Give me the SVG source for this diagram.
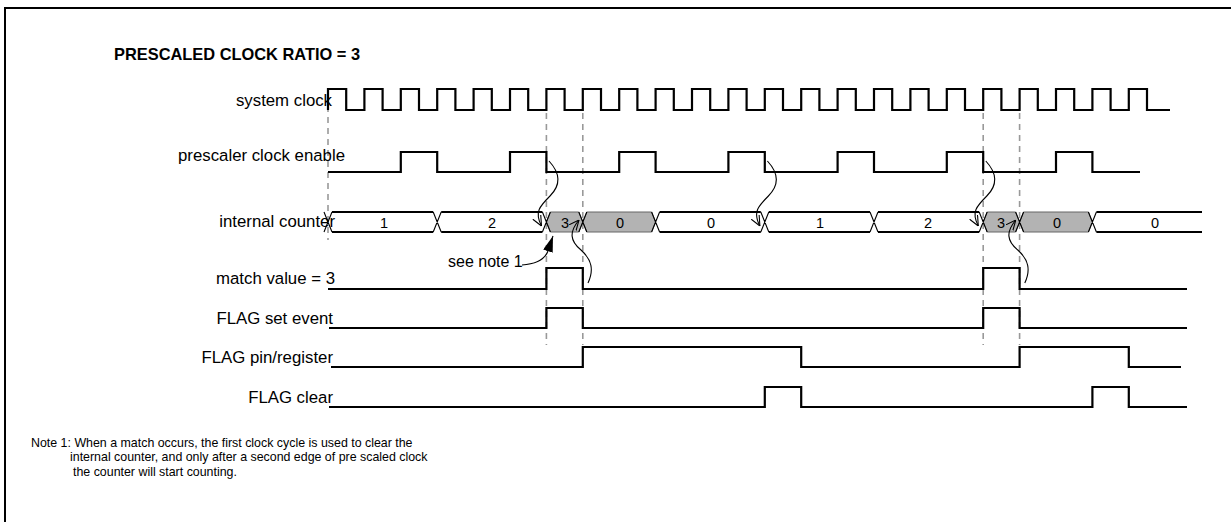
<svg xmlns="http://www.w3.org/2000/svg" width="1231" height="522" viewBox="0 0 1231 522">
<style>
text{font-family:"Liberation Sans",Arial,sans-serif;fill:#000}
.lbl{font-size:16.8px;text-anchor:end}
.num{font-size:14.5px;text-anchor:middle}
.sig{fill:none;stroke:#000;stroke-width:2.2}
.bus{fill:none;stroke:#000;stroke-width:2}
.x{fill:none;stroke:#000;stroke-width:1.1}
.grey{fill:#b3b3b3;stroke:#666;stroke-width:1}
.dash{stroke:#999;stroke-width:1.6;stroke-dasharray:6,5;fill:none}
.cv{fill:none;stroke:#000;stroke-width:1.1}
</style>
<defs>
<marker id="open" viewBox="0 0 10 10" refX="10" refY="5" markerWidth="10" markerHeight="10" markerUnits="userSpaceOnUse" orient="auto"><path d="M0,0.5 L10,5 L0,9.5" fill="none" stroke="#000" stroke-width="1.1"/></marker>
<marker id="solid" viewBox="0 0 16 10" refX="16" refY="5" markerWidth="16" markerHeight="10" markerUnits="userSpaceOnUse" orient="auto"><path d="M0,0 L16,5 L0,10 z" fill="#000"/></marker>
</defs>
<path d="M5,530 V8 H1240" fill="none" stroke="#000" stroke-width="2"/>
<text x="114" y="60" style="font-size:16.4px;font-weight:bold">PRESCALED CLOCK RATIO = 3</text>
<g id="dashes">
<line class="dash" x1="328" y1="95" x2="328" y2="240"/>
<line class="dash" x1="546.4" y1="113" x2="546.4" y2="345"/>
<line class="dash" x1="582.8" y1="113" x2="582.8" y2="345"/>
<line class="dash" x1="983.2" y1="113" x2="983.2" y2="345"/>
<line class="dash" x1="1019.6" y1="113" x2="1019.6" y2="345"/>
</g>
<g id="sysclk">
<text class="lbl" x="332" y="106">system clock</text>
<path class="sig" d="M328,110 v-21h18.2v21h18.2 v-21h18.2v21h18.2 v-21h18.2v21h18.2 v-21h18.2v21h18.2 v-21h18.2v21h18.2 v-21h18.2v21h18.2 v-21h18.2v21h18.2 v-21h18.2v21h18.2 v-21h18.2v21h18.2 v-21h18.2v21h18.2 v-21h18.2v21h18.2 v-21h18.2v21h18.2 v-21h18.2v21h18.2 v-21h18.2v21h18.2 v-21h18.2v21h18.2 v-21h18.2v21h18.2 v-21h18.2v21h18.2 v-21h18.2v21h18.2 v-21h18.2v21h18.2 v-21h18.2v21h18.2 v-21h18.2v21h18.2 v-21h18.2v21h18.2 v-21h18.2v21h23"/>
</g>
<g id="enable">
<text class="lbl" x="345" y="161">prescaler clock enable</text>
<path class="sig" d="M328,172 H400.8 V152 H437.2 V172 H510 V152 H546.4 V172 H619.2 V152 H655.6 V172 H728.4 V152 H764.8 V172 H837.6 V152 H874 V172 H946.8 V152 H983.2 V172 H1056 V152 H1092.4 V172 H1140"/>
</g>
<g id="counter">
<text class="lbl" x="335" y="227">internal counter</text>
<polygon class="grey" points="546.4,222 550.4,212 578.8,212 582.8,222 578.8,232 550.4,232"/>
<polygon class="grey" points="582.8,222 586.8,212 651.6,212 655.6,222 651.6,232 586.8,232"/>
<polygon class="grey" points="983.2,222 987.2,212 1015.6,212 1019.6,222 1015.6,232 987.2,232"/>
<polygon class="grey" points="1019.6,222 1023.6,212 1088.4,212 1092.4,222 1088.4,232 1023.6,232"/>
<path class="bus" d="M332,212 H433.2 M332,232 H433.2 M441.2,212 H542.4 M441.2,232 H542.4 M659.6,212 H760.8 M659.6,232 H760.8 M768.8,212 H870 M768.8,232 H870 M878,212 H979.2 M878,232 H979.2 M1096.4,212 H1202 M1096.4,232 H1202"/>
<path class="x" d="M324,212 L332,232 M324,232 L332,212 M433.2,212 L441.2,232 M433.2,232 L441.2,212 M542.4,212 L550.4,232 M542.4,232 L550.4,212 M578.8,212 L586.8,232 M578.8,232 L586.8,212 M651.6,212 L659.6,232 M651.6,232 L659.6,212 M760.8,212 L768.8,232 M760.8,232 L768.8,212 M870,212 L878,232 M870,232 L878,212 M979.2,212 L987.2,232 M979.2,232 L987.2,212 M1015.6,212 L1023.6,232 M1015.6,232 L1023.6,212 M1088.4,212 L1096.4,232 M1088.4,232 L1096.4,212"/>
<text class="num" x="384" y="228">1</text>
<text class="num" x="492" y="228">2</text>
<text class="num" x="565" y="228">3</text>
<text class="num" x="620" y="228">0</text>
<text class="num" x="711" y="228">0</text>
<text class="num" x="820" y="228">1</text>
<text class="num" x="928" y="228">2</text>
<text class="num" x="1001" y="228">3</text>
<text class="num" x="1057" y="228">0</text>
<text class="num" x="1155" y="228">0</text>
</g>
<g id="match">
<text class="lbl" x="335" y="284">match value = 3</text>
<path class="sig" d="M328,289 H546.4 V268 H582.8 V289 H983.2 V268 H1019.6 V289 H1187"/>
</g>
<g id="flagset">
<text class="lbl" x="333" y="324">FLAG set event</text>
<path class="sig" d="M329,328 H546.4 V308 H582.8 V328 H983.2 V308 H1019.6 V328 H1187"/>
</g>
<g id="flagpin">
<text class="lbl" x="333" y="363">FLAG pin/register</text>
<path class="sig" d="M331,367 H582.8 V347 H801.2 V367 H1019.6 V347 H1128.8 V367 H1181"/>
</g>
<g id="flagclear">
<text class="lbl" x="333" y="403">FLAG clear</text>
<path class="sig" d="M329,407 H764.8 V387 H801.2 V407 H1092.4 V387 H1128.8 V407 H1187"/>
</g>
<g id="connectors">
<path class="cv" marker-end="url(#open)" d="M549,161 C562,175 560,186 550,196 C540,206 534,212 541.5,226"/>
<path class="cv" marker-end="url(#open)" d="M767.4,161 C780.4,175 778.4,186 768.4,196 C758.4,206 752.4,212 759.9,226"/>
<path class="cv" marker-end="url(#open)" d="M985.8,161 C998.8,175 996.8,186 986.8,196 C976.8,206 970.8,212 978.3,226"/>
<path class="cv" marker-end="url(#open)" d="M588,283 C594,270 592,260 581,250 C570,241 569,232 579,220"/>
<path class="cv" marker-end="url(#open)" d="M1024.8,283 C1030.8,270 1028.8,260 1017.8,250 C1006.8,241 1005.8,232 1015.8,220"/>
<path class="cv" marker-end="url(#solid)" d="M522,265 C536,264 545,259 548,251 L553,236"/>
</g>
<text x="448" y="267" style="font-size:16px">see note 1</text>
<g id="note" style="font-size:12.4px">
<text x="31" y="447">Note 1: When a match occurs, the first clock cycle is used to clear the</text>
<text x="70" y="461">internal counter, and only after a second edge of pre scaled clock</text>
<text x="73" y="476">the counter will start counting.</text>
</g>
</svg>
